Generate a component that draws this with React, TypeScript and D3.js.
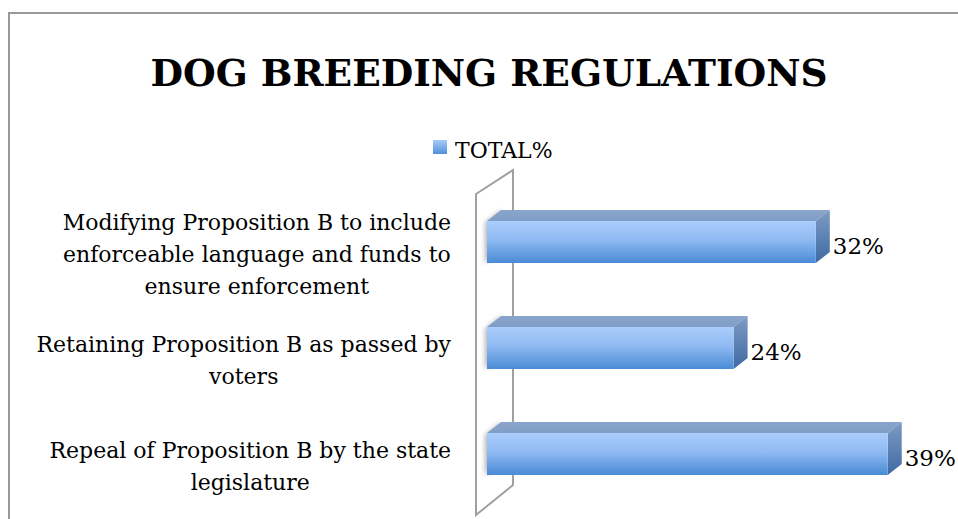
import React from 'react';
import * as d3 from 'd3';

const width = 958;
const height = 519;
const title = 'DOG BREEDING REGULATIONS';
const seriesName = 'TOTAL%';

const categoryLines = [
  ['Modifying Proposition B to include', 'enforceable language and funds to', 'ensure enforcement'],
  ['Retaining Proposition B as passed by', 'voters'],
  ['Repeal of Proposition B by the state', 'legislature'],
];
const totals = [32, 24, 39];

const plot = {left: 487, top: 189, bottom: 507};
const depth = {dx: 14, dy: -11};
const barHeight = 42;
const labelRight = 451;
const lineHeight = 32;
const font = '"DejaVu Serif", serif';

const App: React.FC = () => {
  const labelsRef = React.useRef<SVGGElement>(null);

  const keys = categoryLines.map((_, i) => String(i));

  const xScale = d3.scaleLinear()
    .domain([0, 40])
    .range([plot.left, plot.left + 411]);

  const yScale = d3.scalePoint<string>()
    .domain(keys)
    .range([plot.top, plot.bottom])
    .padding(0.5);

  // centre every label block on its widest line, right edge at labelRight
  React.useEffect(() => {
    if (!labelsRef.current) {
      return;
    }
    d3.select(labelsRef.current).selectAll<SVGGElement, unknown>('g.label').each(function () {
      const texts = d3.select(this).selectAll<SVGTextElement, unknown>('text');
      let widest = 0;
      texts.each(function () {
        widest = Math.max(widest, this.getComputedTextLength());
      });
      texts.attr('x', labelRight - widest / 2);
    });
  }, []);

  return (
    <svg width={width} height={height} style={{position: 'absolute', left: 0, top: 0}}>
      <defs>
        <linearGradient id='front' x1='0' y1='0' x2='0' y2='1'>
          <stop offset='0%' stopColor='#aacdfb' />
          <stop offset='45%' stopColor='#8fbaf2' />
          <stop offset='100%' stopColor='#4a8bd6' />
        </linearGradient>
        <linearGradient id='side' x1='0' y1='0' x2='0' y2='1'>
          <stop offset='0%' stopColor='#7e9bc4' />
          <stop offset='100%' stopColor='#3e6aa3' />
        </linearGradient>
        <linearGradient id='top' x1='0' y1='0' x2='0' y2='1'>
          <stop offset='0%' stopColor='#8aa5ca' />
          <stop offset='100%' stopColor='#7f9dc6' />
        </linearGradient>
        <linearGradient id='legendSwatch' x1='0' y1='0' x2='0' y2='1'>
          <stop offset='0%' stopColor='#a9ccfa' />
          <stop offset='100%' stopColor='#4f8fd8' />
        </linearGradient>
        <filter id='soft' x='-50%' y='-50%' width='200%' height='200%'>
          <feGaussianBlur stdDeviation='2.5' />
        </filter>
      </defs>

      <rect x={9} y={13} width={width + 20} height={height + 20} fill='#fff' stroke='#999' strokeWidth={2} />

      <text x={489} y={86} textAnchor='middle' fontFamily={font} fontWeight='bold' fontSize={37.5} fill='#000'>
        {title}
      </text>

      <g>
        <rect x={433} y={140} width={14} height={14} fill='url(#legendSwatch)' />
        <text x={455} y={158} fontFamily={font} fontSize={22} fill='#000'>{seriesName}</text>
      </g>

      {/* side wall */}
      <polygon points='476,194 513,170 513,485 476,515' fill='#fff' stroke='#a0a0a0' strokeWidth={2} />

      {totals.map((v, i) => {
        const cy = yScale(keys[i]) as number;
        const x0 = xScale(0);
        const x1 = xScale(v);
        const y0 = cy - barHeight / 2;
        const y1 = cy + barHeight / 2;
        const {dx, dy} = depth;
        return (
          <g key={i}>
            <polygon
              points={`${x0 - 2},${y0 + 2} ${x0 + dx},${y0 + dy} ${x0 + dx},${y1 + dy} ${x0 - 2},${y1}`}
              fill='#777' opacity={0.55} filter='url(#soft)' />
            <polygon
              points={`${x0},${y0} ${x0 + dx},${y0 + dy} ${x1 + dx},${y0 + dy} ${x1},${y0}`}
              fill='url(#top)' />
            <polygon
              points={`${x1},${y0} ${x1 + dx},${y0 + dy} ${x1 + dx},${y1 + dy} ${x1},${y1}`}
              fill='url(#side)' />
            <rect x={x0} y={y0} width={x1 - x0} height={barHeight} fill='url(#front)' />
            <text x={x1 + dx + 3} y={cy + 12} fontFamily={font} fontSize={23} fill='#000'>
              {`${v}%`}
            </text>
          </g>
        );
      })}

      <g ref={labelsRef}>
        {categoryLines.map((lines, i) => {
          const cy = (yScale(keys[i]) as number) + 12;
          return (
            <g className='label' key={i}>
              {lines.map((line, j) => (
                <text key={j} x={labelRight} y={cy + (j - (lines.length - 1) / 2) * lineHeight}
                  dy='0.35em' textAnchor='middle' fontFamily={font} fontSize={22} fill='#000'>
                  {line}
                </text>
              ))}
            </g>
          );
        })}
      </g>
    </svg>
  );
};

export default App;
